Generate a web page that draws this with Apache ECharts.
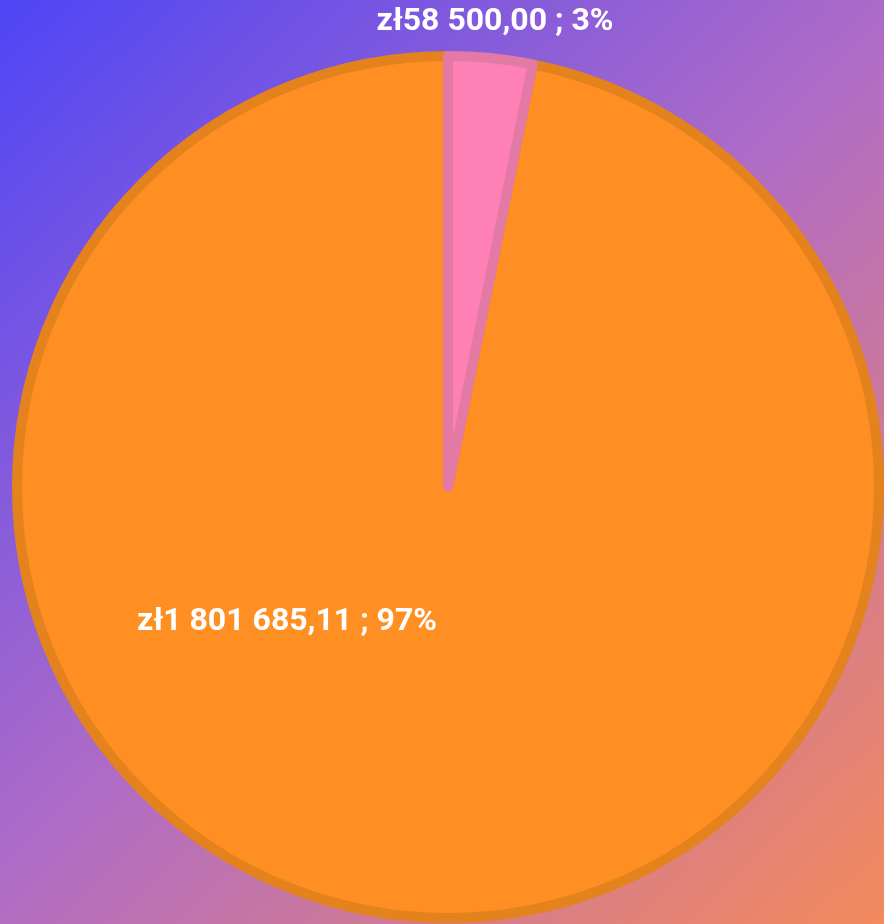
<!DOCTYPE html>
<html>
<head>
<meta charset="utf-8">
<script src="https://cdn.jsdelivr.net/npm/echarts@6/dist/echarts.min.js"></script>
<style>
  html, body { margin: 0; padding: 0; }
  #chart { width: 884px; height: 924px; }
</style>
</head>
<body>
<div id="chart"></div>
<script>
// drawn counter-clockwise from the top, so the small slice ends up last (on top)
const categories = ['Kategoria B', 'Kategoria A']
const values = [1801685.11, 58500.00]
const fillColors = ['#ff8f22', '#ff80b5']
const borderColors = ['#e4821e', '#e37aa6']
// where each label sits (centre of the text)
const labelSpots = [[287, 622], [495, 22]]

function plNumber(v) {
  const parts = v.toFixed(2).split('.')
  const int = parts[0].replace(/\B(?=(\d{3})+(?!\d))/g, ' ')
  return int + ',' + parts[1]
}

const chart = echarts.init(document.getElementById('chart'))

chart.setOption({
  backgroundColor: new echarts.graphic.LinearGradient(0, 0, 1, 1, [
    { offset: 0, color: '#4e45f6' },
    { offset: 0.5, color: '#b06cc6' },
    { offset: 1, color: '#f38a5c' }
  ]),
  series: [{
    type: 'pie',
    center: [448, 487],
    radius: 431,
    startAngle: 90,
    clockwise: false,
    silent: true,
    data: categories.map((c, i) => ({
      name: c,
      value: values[i],
      itemStyle: {
        color: fillColors[i],
        borderColor: borderColors[i],
        borderWidth: 10
      }
    })),
    label: {
      show: true,
      position: 'inside',
      color: '#ffffff',
      fontFamily: 'Roboto',
      fontWeight: 'bold',
      fontSize: 32,
      formatter: p => 'zł' + plNumber(p.value) + ' ; ' + Math.round(p.percent) + '%'
    },
    labelLine: { show: false },
    labelLayout: p => ({
      x: labelSpots[p.dataIndex][0],
      y: labelSpots[p.dataIndex][1],
      align: 'center',
      verticalAlign: 'middle'
    })
  }]
})
</script>
</body>
</html>
